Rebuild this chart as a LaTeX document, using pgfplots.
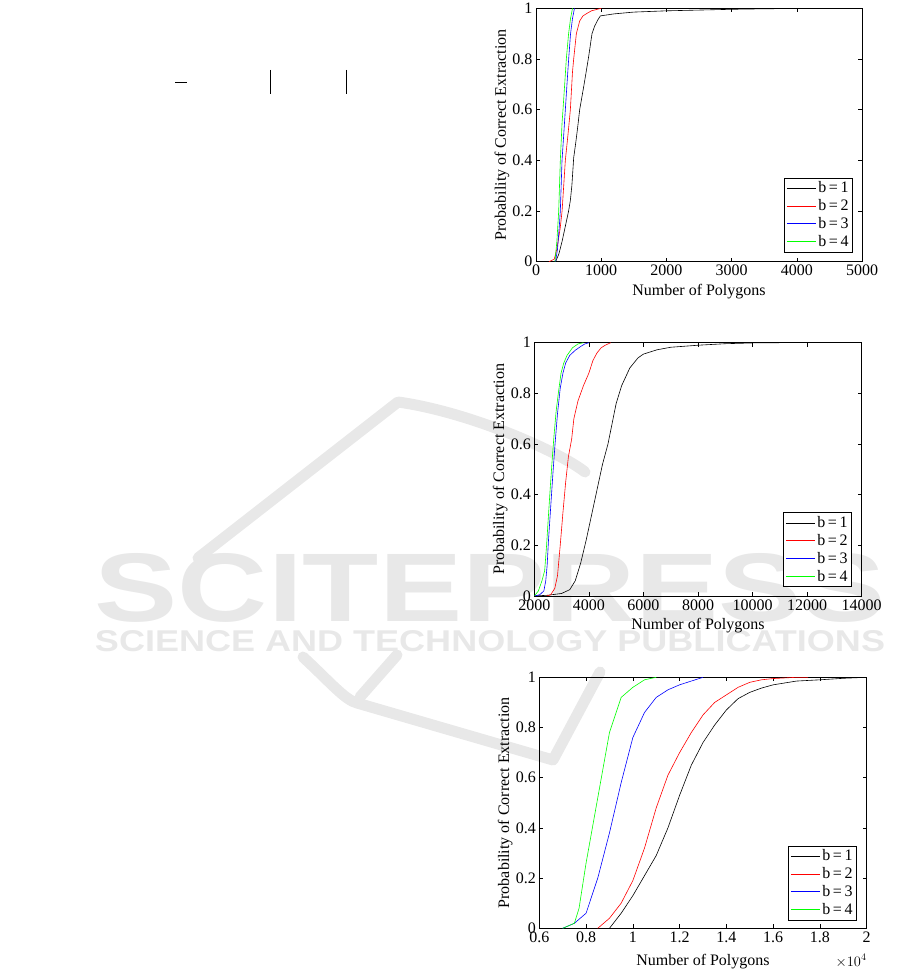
\documentclass[border=0pt]{standalone}
\usepackage{fontspec}
\setmainfont{Liberation Serif}
\newfontfamily\wmfont{Liberation Sans}
\usepackage{graphicx}
\usepackage{pgfplots}
\pgfplotsset{compat=1.18}
\usetikzlibrary{calc}

\definecolor{wm}{gray}{0.91}
\newcommand{\lblfont}{\fontsize{16}{16}\selectfont}

\pgfplotsset{
  cdfaxis/.style={
    scale only axis, anchor=south west,
    width=327pt, height=253pt,
    ymin=0, ymax=1, ytick={0,0.2,0.4,0.6,0.8,1},
    enlargelimits=false,
    tick align=inside, tick pos=both,
    major tick length=4pt,
    tick style={black, line width=0.5pt},
    axis line style={black, line width=0.7pt},
    every tick label/.append style={font=\lblfont},
    /pgf/number format/assume math mode=true,
    /pgf/number format/1000 sep={},
    xlabel={Number of Polygons},
    ylabel={Probability of Correct Extraction},
    every axis y label/.style={at={($(rel axis cs:0,0.5)+(-34pt,0pt)$)}, anchor=center, rotate=90, font=\lblfont},
    every axis x label/.style={at={($(rel axis cs:0.5,0)+(0pt,-30pt)$)}, anchor=center, font=\lblfont},
    legend cell align=left,
    legend style={draw=black, line width=0.5pt, anchor=south east,
      font=\fontsize{16}{16}\selectfont, inner sep=2pt, row sep=1.2pt},
    legend image code/.code={\draw[#1] (0pt,0pt) -- (29pt,0pt);},
    every axis plot/.append style={line width=0.6pt},
  }
}

\begin{document}
\begin{tikzpicture}[x=1pt,y=1pt]
\path[use as bounding box] (0pt,0pt) rectangle (901pt,972pt);

% faint publisher watermark
\begin{scope}[wm, line width=11pt, line cap=round, line join=round]
\draw (198pt,414pt) -- (398pt,570pt) .. controls (470pt,560pt) and (560pt,520pt) .. (585pt,500pt);
\draw (303pt,315pt) .. controls (330pt,290pt) and (345pt,272pt) .. (357pt,269pt) -- (553pt,212pt) -- (600pt,300pt);
\draw (397pt,317pt) -- (360pt,275pt);
\end{scope}
\node[wm, anchor=center] at (490pt,384pt) {\resizebox{790pt}{68pt}{\wmfont\bfseries SCITEPRESS}};
\node[wm, anchor=center] at (490pt,331pt) {\resizebox{790pt}{21pt}{\wmfont\bfseries SCIENCE AND TECHNOLOGY PUBLICATIONS}};

% stray marks from the page
\draw[line width=0.8pt] (175pt,890pt) -- (187pt,890pt);
\draw[line width=0.8pt] (270pt,902pt) -- (270pt,878pt);
\draw[line width=0.8pt] (346pt,902pt) -- (346pt,878pt);

% top chart
\begin{axis}[cdfaxis, at={(536pt,710.3pt)}, width=326pt, height=253.4pt,
  xmin=0, xmax=5000, xtick={0,1000,2000,3000,4000,5000}, scaled x ticks=false,
  legend style={at={(rel axis cs:0.972,0.038)}}]
\addplot[black] coordinates {(300,0) (350,0.03) (400,0.08) (450,0.14) (500,0.2) (526,0.24) (550,0.3) (578,0.41) (610,0.47) (639,0.53) (670,0.6) (731,0.69) (770,0.75) (808,0.81) (859,0.9) (900,0.93) (950,0.955) (987,0.97) (1200,0.978) (1500,0.985) (2000,0.99) (2500,0.993) (3000,0.996) (3500,0.998) (4300,1)};
\addlegendentry{b\,=\,1}
\addplot[red] coordinates {(200,0) (280,0.01) (320,0.05) (370,0.13) (400,0.2) (450,0.4) (490,0.5) (527,0.6) (560,0.75) (578,0.8) (619,0.9) (670,0.95) (720,0.97) (782,0.98) (850,0.99) (1000,1)};
\addlegendentry{b\,=\,2}
\addplot[blue] coordinates {(300,0) (330,0.05) (360,0.15) (373,0.2) (399,0.4) (430,0.52) (450,0.6) (475,0.7) (501,0.8) (530,0.9) (560,0.96) (590,1)};
\addlegendentry{b\,=\,3}
\addplot[green] coordinates {(290,0) (320,0.08) (348,0.2) (373,0.4) (400,0.55) (414,0.6) (440,0.7) (465,0.8) (500,0.9) (530,0.96) (560,1)};
\addlegendentry{b\,=\,4}
\end{axis}

% middle chart
\begin{axis}[cdfaxis, at={(534.3pt,376pt)}, width=327.4pt, height=253.3pt,
  xmin=2000, xmax=14000, xtick={2000,4000,6000,8000,10000,12000,14000}, scaled x ticks=false,
  legend style={at={(rel axis cs:0.970,0.036)}}]
\addplot[black] coordinates {(2000,0) (2500,0.003) (3000,0.01) (3300,0.025) (3500,0.06) (3700,0.13) (3900,0.22) (4100,0.32) (4300,0.42) (4500,0.52) (4700,0.6) (4850,0.68) (5000,0.76) (5200,0.83) (5500,0.9) (5800,0.94) (6000,0.955) (6500,0.972) (7000,0.982) (8000,0.99) (9000,0.996) (10000,0.999) (11000,1)};
\addlegendentry{b\,=\,1}
\addplot[red] coordinates {(2450,0) (2600,0.005) (2750,0.03) (2850,0.08) (2950,0.2) (3050,0.33) (3150,0.45) (3250,0.55) (3370,0.62) (3450,0.7) (3600,0.77) (3800,0.83) (4000,0.88) (4150,0.93) (4300,0.96) (4450,0.98) (4600,0.99) (4800,1)};
\addlegendentry{b\,=\,2}
\addplot[blue] coordinates {(2000,0) (2200,0.005) (2350,0.02) (2420,0.06) (2470,0.12) (2520,0.22) (2600,0.35) (2680,0.48) (2760,0.6) (2850,0.72) (2950,0.82) (3050,0.88) (3150,0.92) (3300,0.95) (3500,0.97) (3700,0.985) (3850,0.995) (4000,1)};
\addlegendentry{b\,=\,3}
\addplot[green] coordinates {(2000,0) (2150,0.02) (2280,0.06) (2380,0.1) (2450,0.2) (2520,0.32) (2580,0.42) (2650,0.53) (2720,0.63) (2800,0.73) (2880,0.8) (2980,0.88) (3080,0.92) (3200,0.95) (3400,0.98) (3600,0.995) (3800,1)};
\addlegendentry{b\,=\,4}
\end{axis}

% bottom chart
\begin{axis}[cdfaxis, at={(539.3pt,43.7pt)}, width=327.4pt, height=251pt,
  xmin=6000, xmax=20000, xtick={6000,8000,10000,12000,14000,16000,18000,20000},
  scaled x ticks=base 10:-4, tick scale binop=\times,
  every x tick scale label/.style={at={(rel axis cs:1,0)}, anchor=north east,
    yshift=-26pt, inner sep=0pt, font=\fontsize{14}{14}\selectfont},
  every axis x label/.style={at={($(rel axis cs:0.5,0)+(0pt,-33pt)$)}, anchor=center, font=\lblfont},
  legend style={at={(rel axis cs:0.970,0.033)}}]
\addplot[black] coordinates {(9000,0) (9500,0.06) (10000,0.13) (10500,0.21) (11000,0.29) (11500,0.4) (12000,0.53) (12500,0.65) (13000,0.74) (13500,0.81) (14000,0.87) (14500,0.915) (15000,0.94) (15500,0.957) (16000,0.97) (17000,0.985) (18000,0.99) (19000,0.996) (20000,1)};
\addlegendentry{b\,=\,1}
\addplot[red] coordinates {(8500,0) (9000,0.04) (9500,0.1) (10000,0.19) (10500,0.32) (11000,0.48) (11500,0.61) (12000,0.7) (12500,0.78) (13000,0.85) (13500,0.9) (14000,0.93) (14500,0.96) (15000,0.98) (15500,0.99) (16000,0.995) (17000,1) (17500,1)};
\addlegendentry{b\,=\,2}
\addplot[blue] coordinates {(7000,0) (7500,0.02) (8000,0.06) (8500,0.2) (9000,0.38) (9500,0.58) (10000,0.76) (10500,0.86) (11000,0.92) (11500,0.95) (12000,0.97) (12500,0.985) (13000,1)};
\addlegendentry{b\,=\,3}
\addplot[green] coordinates {(7000,0) (7500,0.02) (7700,0.08) (8000,0.26) (8500,0.52) (9000,0.78) (9500,0.92) (10000,0.96) (10500,0.99) (11000,1)};
\addlegendentry{b\,=\,4}
\end{axis}
\end{tikzpicture}
\end{document}
